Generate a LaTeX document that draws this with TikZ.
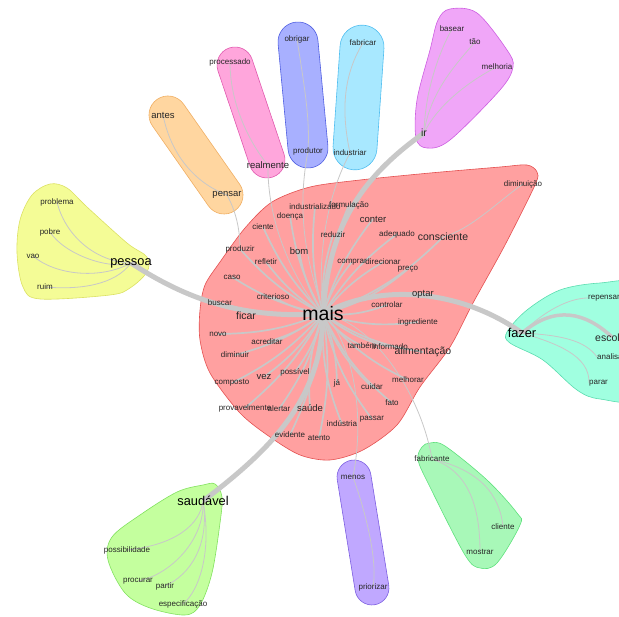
\documentclass[tikz,border=0pt]{standalone}
\usepackage{fontspec}
\setmainfont{Liberation Sans}
\pgfdeclarelayer{blobs}
\pgfdeclarelayer{links}
\pgfsetlayers{blobs,links,main}
\newcommand\fs[1]{\fontsize{#1}{#1}\selectfont}
\definecolor{redfill}{RGB}{255,160,160}\definecolor{redline}{RGB}{228,80,80}
\definecolor{yelfill}{RGB}{244,252,150}\definecolor{yelline}{RGB}{220,225,100}
\definecolor{orafill}{RGB}{255,214,160}\definecolor{oraline}{RGB}{240,175,100}
\definecolor{pinfill}{RGB}{255,166,220}\definecolor{pinline}{RGB}{225,90,175}
\definecolor{blufill}{RGB}{168,176,255}\definecolor{bluline}{RGB}{80,95,225}
\definecolor{cyafill}{RGB}{168,232,255}\definecolor{cyaline}{RGB}{80,190,240}
\definecolor{magfill}{RGB}{240,166,248}\definecolor{magline}{RGB}{205,95,225}
\definecolor{teafill}{RGB}{160,255,224}\definecolor{tealine}{RGB}{90,220,175}
\definecolor{grefill}{RGB}{196,255,158}\definecolor{greline}{RGB}{130,225,95}
\definecolor{purfill}{RGB}{192,168,255}\definecolor{purline}{RGB}{125,95,225}
\definecolor{minfill}{RGB}{168,248,184}\definecolor{minline}{RGB}{95,225,125}
\definecolor{edge}{RGB}{200,200,200}
\tikzset{
  blob/.style={fill=#1fill, draw=#1line, line width=0.6pt},
  caps/.style={rectangle, inner sep=0pt},
  w/.style={inner sep=0pt, text=black!85, font=\fs{8}},
  wm/.style={w, font=\fs{9.5}},
  wl/.style={w, font=\fs{10.5}},
  wh/.style={w, font=\fs{12.8}, text=black},
  wx/.style={w, font=\fs{19.5}, text=black},
  lk/.style={draw=edge, line width=1.7pt},
  lkb/.style={draw=edge, line width=5pt},
  lkt/.style={draw=edge, line width=0.8pt},
}
\begin{document}
\begin{tikzpicture}[x=1pt,y=-1pt]
\useasboundingbox (0,0) rectangle (619,617);
% ---------------- blobs
\begin{pgfonlayer}{blobs}
\filldraw[blob=red] plot[smooth cycle, tension=0.5] coordinates {(200,310) (205,285) (220,262) (245,228) (272,202) (310,187) (360,180) (430,173) (500,167) (527,165) (537,172) (535,185) (505,245) (473,303) (450,347) (420,387) (397,425) (363,450) (330,460) (300,455) (270,437) (240,413) (210,373) (200,340)};
\filldraw[blob=yel] plot[smooth cycle, tension=0.55] coordinates {(50,184) (67,188) (87,207) (127,243) (147,257) (147,272) (130,288) (110,295) (40,299) (23,287) (17,253) (20,220) (32,195)};
\filldraw[blob=mag] plot[smooth cycle, tension=0.55] coordinates {(450,9) (477,13) (507,50) (513,67) (500,90) (450,140) (427,148) (416,138) (417,100) (430,50) (438,20)};
\filldraw[blob=tea] plot[smooth cycle, tension=0.55] coordinates {(507,332) (527,310) (560,290) (600,283) (640,285) (650,340) (640,398) (600,399) (577,390) (543,360) (510,343)};
\filldraw[blob=gre] plot[smooth cycle, tension=0.55] coordinates {(203,485) (215,484) (222,497) (220,523) (212,573) (200,605) (185,615) (150,608) (125,593) (108,560) (112,537) (140,515) (177,492)};
\filldraw[blob=min] plot[smooth cycle, tension=0.55] coordinates {(430,443) (445,446) (487,480) (517,513) (520,525) (497,563) (480,568) (465,555) (430,487) (418,460) (422,447)};
\node[caps, blob=ora, minimum width=135.7pt, minimum height=38pt, rounded corners=18.99pt, rotate=-55] (bora) at (196,155) {};
\node[caps, blob=pin, minimum width=136.2pt, minimum height=36pt, rounded corners=17.99pt, rotate=-71.4] (bpin) at (251,112.5) {};
\node[caps, blob=blu, minimum width=146.5pt, minimum height=40pt, rounded corners=19.99pt, rotate=-84.6] (bblu) at (303,95) {};
\node[caps, blob=cya, minimum width=145pt, minimum height=44pt, rounded corners=21.99pt, rotate=-94] (bcya) at (358.5,97.5) {};
\node[caps, blob=pur, minimum width=146.4pt, minimum height=34pt, rounded corners=16.99pt, rotate=-80.8] (bpur) at (363,532.5) {};
\end{pgfonlayer}
% ---------------- red words
\node[w] (indz) at (315,207) {industrializado};
\node[w] (form) at (349,205) {formulação};
\node[w] (doen) at (290,216) {doença};
\node[wm] (cont) at (373,219) {conter};
\node[w] (cien) at (263,227) {ciente};
\node[w] (redu) at (333,235) {reduzir};
\node[w] (adeq) at (397,234) {adequado};
\node[wl] (cons) at (443,237) {consciente};
\node[w] (prod) at (240,249) {produzir};
\node[wm] (bom) at (299,251) {bom};
\node[w] (refl) at (266,262) {refletir};
\node[w] (comp) at (352,262) {comprar};
\node[w] (dire) at (383,262) {direcionar};
\node[w] (prec) at (408,269) {preço};
\node[w] (caso) at (232,277) {caso};
\node[w] (crit) at (273,297) {criterioso};
\node[wm] (opta) at (423,294) {optar};
\node[w] (busc) at (220,303) {buscar};
\node[wl] (fica) at (246,316) {ficar};
\node[wx] (mais) at (323,314) {mais};
\node[w] (ctrl) at (387,305) {controlar};
\node[w] (ingr) at (418,322) {ingrediente};
\node[w] (novo) at (218,334) {novo};
\node[w] (acre) at (267,342) {acreditar};
\node[w] (tamb) at (362,346) {também};
\node[w] (info) at (390,347) {informado};
\node[wl] (alim) at (423,352) {alimentação};
\node[w] (dimi) at (235,355) {diminuir};
\node[wm] (vez) at (264,377) {vez};
\node[w] (poss) at (295,372) {possível};
\node[w] (compo) at (232,383) {composto};
\node[w] (ja) at (337,383) {já};
\node[w] (cuid) at (372,387) {cuidar};
\node[w] (melh) at (408,380) {melhorar};
\node[w] (fato) at (392,403) {fato};
\node[w] (prov) at (245,408) {provavelmente};
\node[w] (aler) at (279,409) {alertar};
\node[wm] (saud) at (310,408) {saúde};
\node[w] (indu) at (342,424) {indústria};
\node[w] (pass) at (372,419) {passar};
\node[w] (evid) at (290,435) {evidente};
\node[w] (aten) at (319,438) {atento};
\node[w] (dimc) at (523,184) {diminuição};
% ---------------- cluster words
\node[wh] (pess) at (131,263) {pessoa};
\node[w] (prob) at (57,202) {problema};
\node[w] (pobr) at (50,232) {pobre};
\node[w] (vao) at (33,256) {vao};
\node[w] (ruim) at (45,287) {ruim};
\node[wm] (ante) at (163,115) {antes};
\node[wm] (pens) at (227,195) {pensar};
\node[w] (proc) at (230,62) {processado};
\node[wm] (real) at (268,165) {realmente};
\node[w] (obri) at (297,39) {obrigar};
\node[w] (prot) at (308,151) {produtor};
\node[w] (fabr) at (363,43) {fabricar};
\node[w] (indr) at (350,153) {industriar};
\node[wl] (ir) at (424,133) {ir};
\node[w] (base) at (452,29) {basear};
\node[w] (tao) at (475,42) {tão};
\node[w] (melr) at (497,67) {melhoria};
\node[wh] (faze) at (522,333) {fazer};
\node[wl, anchor=west] (esco) at (595,338) {escolher};
\node[w, anchor=west] (repe) at (588,298) {repensar};
\node[w, anchor=west] (anal) at (597,357) {analisar};
\node[w, anchor=west] (para) at (589,383) {parar};
\node[wh] (sauv) at (203,501) {saudável};
\node[w] (posb) at (127,550) {possibilidade};
\node[w] (pros) at (138,581) {procurar};
\node[w] (part) at (165,586) {partir};
\node[w] (espe) at (183,604) {especificação};
\node[w] (meno) at (353,477) {menos};
\node[w] (prio) at (373,587) {priorizar};
\node[w] (fabc) at (432,459) {fabricante};
\node[w] (clie) at (503,527) {cliente};
\node[w] (most) at (480,552) {mostrar};
\coordinate (escc) at (612,337);
% ---------------- links
\begin{pgfonlayer}{links}
\foreach \n in {indz,form,doen,cont,cien,redu,adeq,prod,bom,refl,comp,dire,caso,crit,busc,novo,acre,dimi,vez,poss,compo,ja,prov,aler,evid,aten}
  \draw[lk] (mais.center) to[bend left=10] (\n.center);
\foreach \n in {cons,prec,ctrl,ingr,tamb,info,alim,cuid,melh,fato,saud,indu,pass}
  \draw[lk] (mais.center) to[bend right=12] (\n.center);
\draw[lkt] (dimc.center) .. controls (500,200) and (470,230) .. (cons.center);
% thick links
\draw[lkb] (mais.center) .. controls (328,240) and (350,185) .. (ir.center);
\draw[lkb] (mais.center) .. controls (250,318) and (195,305) .. (pess.center);
\draw[lkb] (mais.center) .. controls (380,282) and (462,290) .. (faze.center);
\draw[lkb] (mais.center) .. controls (322,400) and (270,450) .. (sauv.center);
\draw[draw=edge, line width=3.5pt] (faze.center) .. controls (555,305) and (585,312) .. (escc);
% links between clusters
\draw[lkt] (pens.center) .. controls (238,215) and (240,235) .. (prod.center);
\draw[lkt] (real.center) .. controls (267,230) and (300,290) .. (mais.center);
\draw[lkt] (prot.center) .. controls (293,230) and (315,280) .. (mais.center);
\draw[lkt] (indr.center) .. controls (322,205) and (318,270) .. (mais.center);
\draw[lkt] (meno.center) .. controls (368,400) and (345,330) .. (mais.center);
\draw[lkt] (fabc.center) .. controls (420,390) and (370,320) .. (mais.center);
% cluster internals
\draw[lkt] (pess.center) .. controls (95,262) and (65,235) .. (prob.center);
\draw[lkt] (pess.center) .. controls (110,270) and (65,255) .. (pobr.center);
\draw[lkt] (pess.center) .. controls (100,280) and (55,275) .. (vao.center);
\draw[lkt] (pess.center) .. controls (115,285) and (80,290) .. (ruim.center);
\draw[lkt] (ante.center) .. controls (172,160) and (200,185) .. (pens.center);
\draw[lkt] (proc.center) .. controls (230,110) and (255,150) .. (real.center);
\draw[lkt] (obri.center) .. controls (305,90) and (310,120) .. (prot.center);
\draw[lkt] (fabr.center) .. controls (340,80) and (343,120) .. (indr.center);
\draw[lkt] (ir.center) .. controls (425,90) and (440,50) .. (base.center);
\draw[lkt] (ir.center) .. controls (430,90) and (460,60) .. (tao.center);
\draw[lkt] (ir.center) .. controls (440,100) and (480,75) .. (melr.center);
\draw[lkt] (faze.center) .. controls (545,310) and (570,298) .. (repe.west);
\draw[lkt] (faze.center) .. controls (560,335) and (585,340) .. (anal.west);
\draw[lkt] (faze.center) .. controls (555,343) and (590,355) .. (para.west);
\draw[lkt] (sauv.center) .. controls (200,525) and (175,545) .. (posb.center);
\draw[lkt] (sauv.center) .. controls (205,540) and (170,575) .. (pros.center);
\draw[lkt] (sauv.center) .. controls (210,545) and (190,575) .. (part.center);
\draw[lkt] (sauv.center) .. controls (212,550) and (200,590) .. (espe.center);
\draw[lkt] (meno.center) .. controls (365,510) and (378,560) .. (prio.center);
\draw[lkt] (fabc.center) .. controls (480,470) and (500,495) .. (clie.center);
\draw[lkt] (fabc.center) .. controls (465,470) and (480,500) .. (most.center);
\end{pgfonlayer}
\end{tikzpicture}
\end{document}
